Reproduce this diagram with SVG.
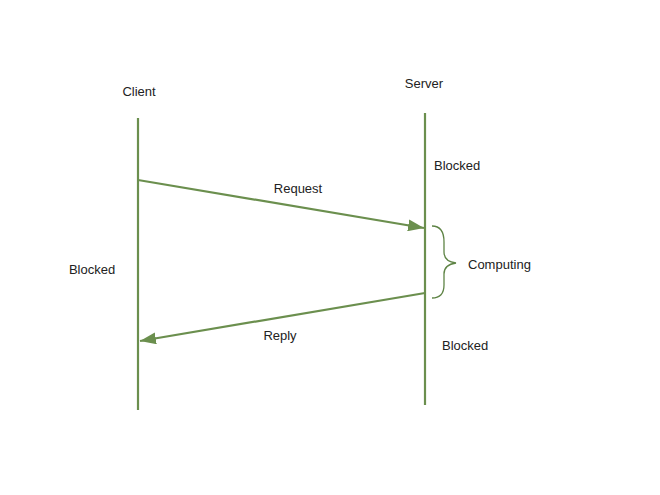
<svg xmlns="http://www.w3.org/2000/svg" width="660" height="495" viewBox="0 0 660 495">
<style>
.ln{stroke:#6b8f4e;stroke-width:2.2;fill:none}
.br{stroke:#5f8446;stroke-width:1.3;fill:none}
.t{font-family:"Liberation Sans",Arial,sans-serif;font-size:13px;fill:#222}
</style>
<defs>
<marker id="a" viewBox="0 0 16 12" refX="16" refY="6" markerWidth="16" markerHeight="12" markerUnits="userSpaceOnUse" orient="auto">
<path d="M0,0 L16,6 L0,12 z" fill="#6b8f4e"/>
</marker>
</defs>
<rect width="660" height="495" fill="#fff"/>
<g id="client">
<text class="t" x="139" y="96" text-anchor="middle">Client</text>
<line class="ln" x1="138" y1="118" x2="138" y2="410"/>
<text class="t" x="92" y="274" text-anchor="middle">Blocked</text>
</g>
<g id="server">
<text class="t" x="424" y="88" text-anchor="middle">Server</text>
<line class="ln" x1="425" y1="113" x2="425" y2="405"/>
<text class="t" x="434" y="170">Blocked</text>
<text class="t" x="442" y="350">Blocked</text>
</g>
<g id="computing">
<path class="br" d="M432,226 C440,226 444,232 444,242 L444,252 C444,258 448,262 456,263 C448,264 444,268 444,274 L444,285 C444,294 440,298 432,298"/>
<text class="t" x="468" y="269">Computing</text>
</g>
<g id="connectors">
<line class="ln" x1="138" y1="180" x2="424" y2="228" marker-end="url(#a)"/>
<text class="t" x="298" y="193" text-anchor="middle">Request</text>
<line class="ln" x1="425" y1="293" x2="140" y2="341" marker-end="url(#a)"/>
<text class="t" x="280" y="340" text-anchor="middle">Reply</text>
</g>
</svg>
